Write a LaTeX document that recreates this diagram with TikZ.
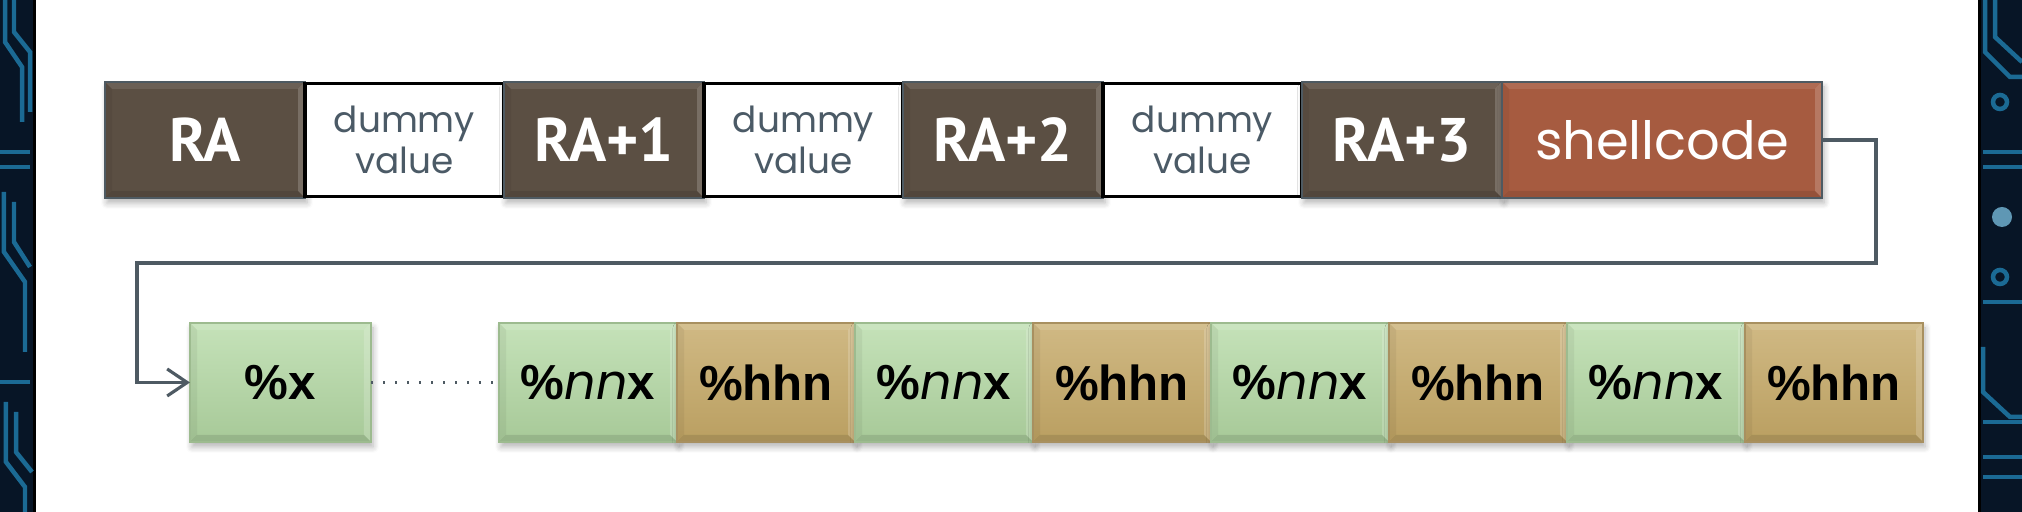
\documentclass[tikz,border=0pt]{standalone}
\usepackage{fontspec}
\usetikzlibrary{positioning, arrows.meta, shadows.blur}

\newfontfamily\gothic{Poppins}
\newfontfamily\bfont{Liberation Sans}[UprightFont=* Bold]
\newfontfamily\rafont{PT Sans}

\definecolor{board}{HTML}{071526}
\definecolor{trace}{HTML}{1B6A94}
\definecolor{rabrown}{HTML}{5B4F43}
\definecolor{raedge}{HTML}{4E5A62}
\definecolor{shellred}{HTML}{A65B40}
\definecolor{greentop}{HTML}{C5E2B9}
\definecolor{greenbot}{HTML}{A7C998}
\definecolor{greenedge}{HTML}{9DBB8F}
\definecolor{tantop}{HTML}{D0B984}
\definecolor{tanbot}{HTML}{BA9F61}
\definecolor{tanedge}{HTML}{A89060}
\definecolor{dummytext}{HTML}{4B5A66}
\definecolor{wire}{HTML}{4E5A63}

\tikzset{
	bevel/.style = {path picture = {
		\coordinate (bsw) at (path picture bounding box.south west);
		\coordinate (bne) at (path picture bounding box.north east);
		\fill[white, opacity = 0.10] (bsw |- bne) -- (bne) -- ([shift = {(-0.07, -0.07)}]bne) -- ([shift = {(0.07, -0.07)}]bsw |- bne) -- cycle;
		\fill[white, opacity = 0.18] (bne) -- (bne |- bsw) -- ([shift = {(-0.07, 0.07)}]bne |- bsw) -- ([shift = {(-0.07, -0.07)}]bne) -- cycle;
		\fill[black, opacity = 0.10] (bsw) -- (bne |- bsw) -- ([shift = {(-0.07, 0.07)}]bne |- bsw) -- ([shift = {(0.07, 0.07)}]bsw) -- cycle;
		\fill[black, opacity = 0.05] (bsw) -- (bsw |- bne) -- ([shift = {(0.07, -0.07)}]bsw |- bne) -- ([shift = {(0.07, 0.07)}]bsw) -- cycle;
	}},
	cell/.style = {inner sep = 0pt, outer sep = 0pt, bevel,
		blur shadow = {shadow xshift = 0.02cm, shadow yshift = -0.05cm, shadow opacity = 30, shadow blur steps = 6}},
	rabox/.style = {cell, minimum width = 2cm, minimum height = 1.16cm, fill = rabrown, draw = raedge, line width = 0.7pt,
		text = white, font = \rafont\bfseries\fontsize{17.5}{20}\selectfont},
	dummybox/.style = {minimum width = 1.99cm, minimum height = 1.13cm, inner sep = 0pt, outer sep = 0pt, fill = white, draw = black,
		line width = 0.9pt, text = dummytext, align = center, font = \gothic\fontsize{10.2}{11.6}\selectfont},
	shellbox/.style = {rabox, minimum width = 3.2cm, fill = shellred, font = \gothic\fontsize{15}{17}\selectfont},
	nnbox/.style = {cell, minimum width = 1.78cm, minimum height = 1.19cm, top color = greentop, bottom color = greenbot,
		draw = greenedge, line width = 0.5pt, font = \bfont\fontsize{14}{16}\selectfont},
	hhnbox/.style = {nnbox, top color = tantop, bottom color = tanbot, draw = tanedge},
	wireline/.style = {draw = wire, line width = 0.9pt},
	trace/.style = {draw = trace, line width = 0.045cm},
}

\newcommand{\nnx}{\%{\gothic\itshape\mdseries nn}x}

\begin{document}
\begin{tikzpicture}
	\useasboundingbox (0, 0) rectangle (20.22, 5.12);

	% circuit board strips at both sides
	\fill[board] (0, 0) rectangle (0.34, 5.12);
	\fill[board] (19.79, 0) rectangle (20.22, 5.12);
	\draw[black, line width = 0.03cm] (0.345, 0) -- (0.345, 5.12);
	\draw[black, line width = 0.03cm] (19.79, 0) -- (19.79, 5.12);
	\draw[trace] (0.05, 5.12) -- (0.05, 4.7) -- (0.22, 4.45) -- (0.22, 3.9);
	\draw[trace] (0.14, 5.12) -- (0.14, 4.8) -- (0.3, 4.6) -- (0.3, 4.0);
	\draw[trace] (0.0, 3.6) -- (0.3, 3.6);
	\draw[trace] (0.0, 3.45) -- (0.3, 3.45);
	\draw[trace] (0.04, 3.2) -- (0.04, 2.6) -- (0.25, 2.3) -- (0.25, 1.6);
	\draw[trace] (0.14, 3.1) -- (0.14, 2.7) -- (0.3, 2.45);
	\draw[trace] (0.0, 1.3) -- (0.3, 1.3);
	\draw[trace] (0.06, 1.1) -- (0.06, 0.5) -- (0.25, 0.25) -- (0.25, 0);
	\draw[trace] (0.16, 1.0) -- (0.16, 0.6) -- (0.32, 0.4);
	\draw[trace] (19.85, 5.12) -- (19.85, 4.6) -- (20.1, 4.35) -- (20.22, 4.35);
	\draw[trace] (19.95, 5.12) -- (19.95, 4.75) -- (20.22, 4.5);
	\draw[trace] (20.0, 4.1) circle (0.07);
	\draw[trace] (19.83, 3.6) -- (20.22, 3.6);
	\draw[trace] (19.83, 3.45) -- (20.22, 3.45);
	\fill[trace!70!white] (20.02, 2.95) circle (0.1);
	\draw[trace] (20.0, 2.35) circle (0.07);
	\draw[trace] (19.83, 2.1) -- (20.22, 2.1);
	\draw[trace] (19.83, 1.65) -- (19.83, 1.2) -- (20.1, 0.95) -- (20.22, 0.95);
	\draw[trace] (19.83, 0.9) -- (20.22, 0.9);
	\draw[trace] (19.83, 0.55) -- (20.22, 0.55);
	\draw[trace] (19.83, 0.35) -- (20.22, 0.35);

	% top row
	\node[rabox] (ra0) at (2.05, 3.72) {RA};
	\node[dummybox, right = 0cm of ra0] (dm1) {dummy\\value};
	\node[rabox, right = 0cm of dm1] (ra1) {RA+1};
	\node[dummybox, right = 0cm of ra1] (dm2) {dummy\\value};
	\node[rabox, right = 0cm of dm2] (ra2) {RA+2};
	\node[dummybox, right = 0cm of ra2] (dm3) {dummy\\value};
	\node[rabox, right = 0cm of dm3] (ra3) {RA+3};
	\node[shellbox, right = 0cm of ra3] (sc) {shellcode};

	% bottom row
	\node[nnbox, minimum width = 1.81cm] (px) at (2.805, 1.295) {\%x};
	\node[nnbox, right = 1.28cm of px] (n1) {\nnx};
	\node[hhnbox, right = 0cm of n1] (h1) {\%hhn};
	\foreach \i in {2, 3, 4} {
		\pgfmathtruncatemacro{\j}{\i - 1}
		\node[nnbox, right = 0cm of h\j] (n\i) {\nnx};
		\node[hhnbox, right = 0cm of n\i] (h\i) {\%hhn};
	}

	% connectors
	\coordinate (turnR) at (18.76, 2.49);
	\coordinate (turnL) at (1.37, 2.49);
	\draw[wireline, -{Straight Barb[length = 0.2cm, width = 0.27cm]}] (sc.east) -- (sc.east -| turnR) -- (turnR) -- (turnL) |- (px.west);
	\draw[wire, line width = 0.025cm, dash pattern = on 0.02cm off 0.1cm] (px.east) -- (n1.west);
\end{tikzpicture}
\end{document}
